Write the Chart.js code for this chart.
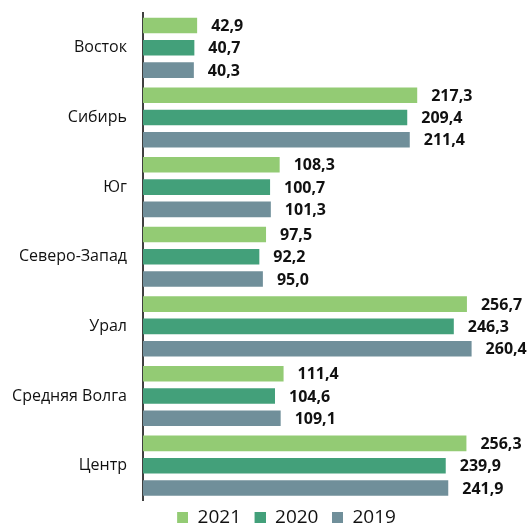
<!DOCTYPE html>
<html>
<head>
<meta charset="utf-8">
<script src="https://cdn.jsdelivr.net/npm/chart.js@4"></script>
<style>
  html, body { margin: 0; padding: 0; background: #fff; overflow: hidden; }
  #wrap { width: 567px; height: 537px; position: relative; }
</style>
</head>
<body>
<div id="wrap"><canvas id="chart"></canvas></div>
<script>
/* ─── DATA ─────────────────────────────────────────── */
const regions  = ["Восток", "Сибирь", "Юг", "Северо-Запад", "Урал", "Средняя Волга", "Центр"];
const y2021    = [42.9, 217.3, 108.3, 97.5, 256.7, 111.4, 256.3];
const y2020    = [40.7, 209.4, 100.7, 92.2, 246.3, 104.6, 239.9];
const y2019    = [40.3, 211.4, 101.3, 95.0, 260.4, 109.1, 241.9];
const years    = ["2021", "2020", "2019"];

const FONT   = "'Open Sans', 'Noto Sans', sans-serif";
const COLORS = ["#93cb74", "#43a07a", "#708f9a"];

/* ─── LEGEND SWATCHES (small lead-in + square) ─────── */
function swatch(color) {
  const c = document.createElement("canvas");
  c.width = 17; c.height = 11;
  const g = c.getContext("2d");
  g.fillStyle = color;
  g.fillRect(6, 0, 11, 11);
  return c;
}
const swatches = COLORS.map(swatch);

/* ─── VALUE LABELS ─────────────────────────────────── */
const valueLabels = {
  id: "valueLabels",
  afterDatasetsDraw(chart) {
    const ctx = chart.ctx;
    ctx.save();
    ctx.font = "bold 16px " + FONT;
    ctx.fillStyle = "#111";
    ctx.textBaseline = "middle";
    ctx.textAlign = "left";
    chart.data.datasets.forEach((ds, i) => {
      chart.getDatasetMeta(i).data.forEach((bar, j) => {
        const txt = ds.data[j].toFixed(1).replace(".", ",");
        ctx.fillText(txt, bar.x + 14, bar.y + 1);
      });
    });
    ctx.restore();
  }
};

/* ─── CHART ────────────────────────────────────────── */
new Chart(document.getElementById("chart"), {
  type: "bar",
  data: {
    labels: regions,
    datasets: years.map((y, i) => ({
      label: y,
      data: [y2021, y2020, y2019][i],
      backgroundColor: COLORS[i],
    })),
  },
  options: {
    indexAxis: "y",
    responsive: true,
    maintainAspectRatio: false,
    animation: false,
    datasets: {
      bar: { categoryPercentage: 0.96, barPercentage: 0.7 },
    },
    layout: { padding: { top: 13, right: 0, left: 0, bottom: 0 } },
    plugins: {
      legend: {
        position: "bottom",
        labels: {
          color: "#111",
          font: { family: FONT, size: 19 },
          usePointStyle: true,
          pointStyleWidth: 17,
          boxHeight: 11,
          padding: 7.5,
          generateLabels(chart) {
            const items = Chart.defaults.plugins.legend.labels.generateLabels(chart);
            items.forEach((it, i) => { it.pointStyle = swatches[i]; });
            return items;
          },
        },
      },
      tooltip: { enabled: false },
    },
    scales: {
      x: {
        display: false,
        min: 0,
        max: 336,
      },
      y: {
        grid: {
          display: true,
          drawOnChartArea: false,
          drawTicks: true,
          tickLength: 16,
          tickColor: "rgba(0,0,0,0)",
        },
        border: { color: "#404040", width: 2 },
        ticks: {
          color: "#111",
          font: { family: FONT, size: 16 },
          padding: 0,
        },
        afterFit(scale) { scale.width = 143; },
      },
    },
  },
  plugins: [valueLabels],
});
</script>
</body>
</html>
